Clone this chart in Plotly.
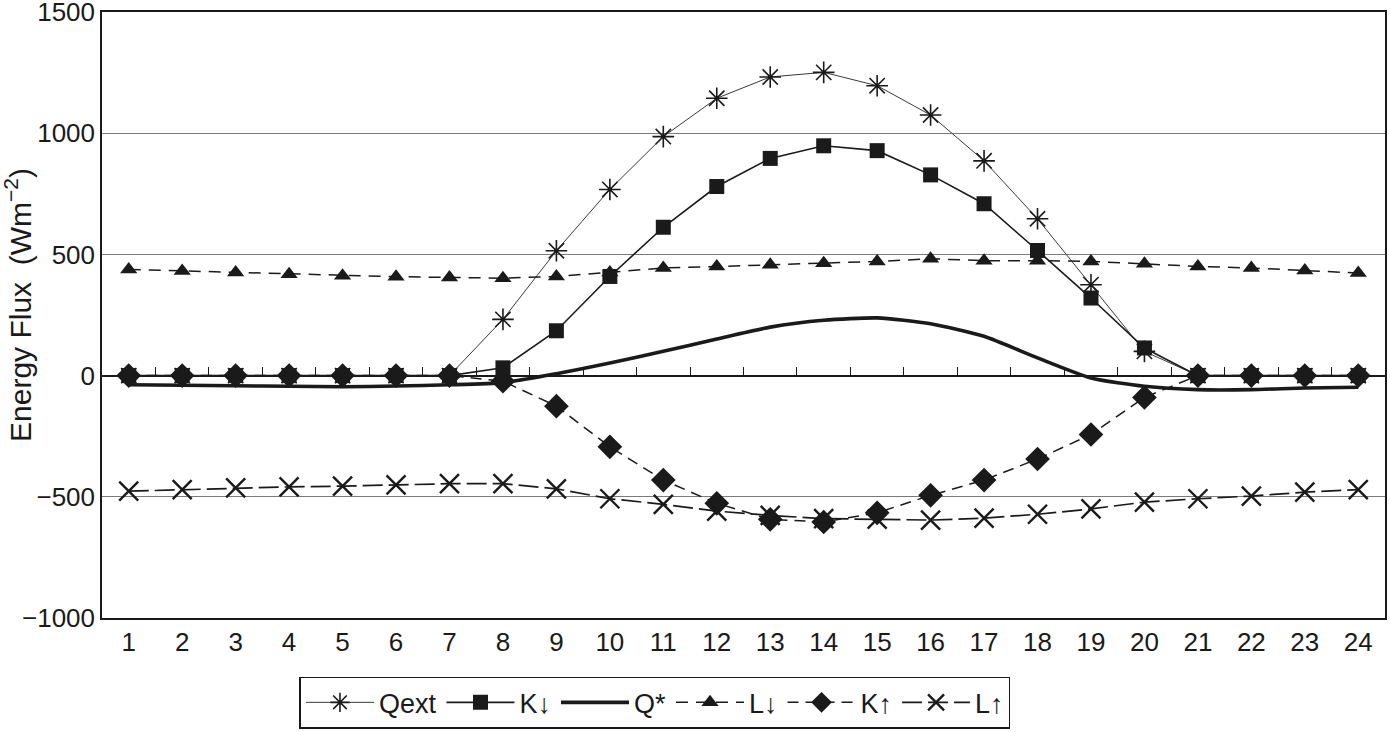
import plotly.graph_objects as go

hours = list(range(1, 25))
tick_labels = [str(h) for h in hours]

qext = [0, 0, 0, 0, 0, 0, 0, 232, 515, 768, 986, 1144, 1232, 1251, 1196, 1075,
        886, 647, 375, 100, 0, 0, 0, 0]
k_down = [0, 0, 0, 0, 0, 0, 0, 32, 185, 409, 612, 780, 896, 948, 928, 828,
          709, 516, 320, 114, 0, 0, 0, 0]
q_star = [-38, -40, -42, -44, -46, -43, -38, -29, 8, 52, 100, 151, 200, 228, 238, 214,
          162, 73, -10, -44, -58, -58, -51, -48]
l_down = [438, 432, 425, 418, 412, 408, 405, 402, 409, 425, 444, 450, 457, 464, 471, 482,
          474, 474, 471, 461, 450, 444, 434, 423]
k_up = [0, 0, 0, 0, 0, 0, 0, -23, -126, -294, -431, -527, -593, -604, -566, -494,
        -431, -344, -243, -90, 0, 0, 0, 0]
l_up = [-477, -470, -463, -459, -456, -451, -446, -446, -467, -508, -531, -559, -577, -590, -592, -596,
        -588, -572, -550, -522, -508, -497, -481, -470]

y_title = "Energy Flux  (Wm<sup>−2</sup>)"

FONT = "Liberation Sans, Arial, sans-serif"
INK = "#1a1a1a"
FS = 26

fig = go.Figure()

fig.add_trace(go.Scatter(
    x=hours, y=qext, name="Qext", mode="lines+markers",
    line=dict(color="#3a3a3a", width=1),
    marker=dict(symbol="asterisk-open", size=18, line=dict(color=INK, width=1.6), color=INK)))
fig.add_trace(go.Scatter(
    x=hours, y=k_down, name="K↓", mode="lines+markers",
    line=dict(color=INK, width=1.6),
    marker=dict(symbol="square", size=15, color=INK)))
fig.add_trace(go.Scatter(
    x=hours, y=q_star, name="Q*", mode="lines",
    line=dict(color=INK, width=3.6, shape="spline", smoothing=0.6)))
fig.add_trace(go.Scatter(
    x=hours, y=l_down, name="L↓", mode="lines+markers",
    line=dict(color=INK, width=1.5, dash="12px,8px"),
    marker=dict(symbol="triangle-up", size=15, color=INK)))
fig.add_trace(go.Scatter(
    x=hours, y=k_up, name="K↑", mode="lines+markers",
    line=dict(color=INK, width=1.5, dash="11px,7px"),
    marker=dict(symbol="diamond", size=19, color=INK)))
fig.add_trace(go.Scatter(
    x=hours, y=l_up, name="L↑", mode="lines+markers",
    line=dict(color=INK, width=1.7, dash="20px,6px"),
    marker=dict(symbol="x-thin-open", size=19, line=dict(color=INK, width=2.4), color=INK)))

# helper trace so the zero-line axis with tick marks is drawn
fig.add_trace(go.Scatter(x=[], y=[], xaxis="x2", showlegend=False, hoverinfo="skip"))

fig.update_layout(
    width=1390, height=732,
    margin=dict(l=102, r=5, t=12, b=114, autoexpand=False),
    paper_bgcolor="white", plot_bgcolor="white",
    font=dict(family=FONT, size=FS, color=INK),
    showlegend=True,
    legend=dict(orientation="h", x=0.431, xanchor="center", y=-0.097, yanchor="top",
                bordercolor=INK, borderwidth=1.5, font=dict(size=27, family=FONT, color=INK),
                itemwidth=68, tracegroupgap=0, traceorder="normal"),
    xaxis=dict(range=[0.5, 24.5], tickmode="array", tickvals=hours, ticktext=tick_labels,
               showgrid=False, zeroline=False, showline=True, linecolor=INK, linewidth=1.5,
               mirror=True, ticks="", automargin=False,
               tickfont=dict(size=FS, family=FONT, color=INK)),
    xaxis2=dict(range=[0.5, 24.5], overlaying="x", anchor="free", position=0.4,
                tickmode="array", tickvals=[h + 0.5 for h in hours[:-1]],
                ticks="inside", ticklen=8, tickwidth=1.3, tickcolor=INK,
                showticklabels=False, showgrid=False, zeroline=False, automargin=False,
                showline=True, linecolor=INK, linewidth=1.5),
    yaxis=dict(range=[-1000, 1500], tickmode="array",
               tickvals=[-1000, -500, 0, 500, 1000, 1500],
               showgrid=True, gridcolor="#7a7a7a", gridwidth=1,
               zeroline=False, showline=True, linecolor=INK, linewidth=1.5, mirror=True,
               ticks="", ticklabeloverflow="allow", automargin=False,
               tickfont=dict(size=FS, family=FONT, color=INK)),
    annotations=[dict(text=y_title, xref="paper", yref="paper", x=-0.0655, y=0.5165,
                      xanchor="center", yanchor="middle", textangle=-90, showarrow=False,
                      font=dict(size=30, family=FONT, color=INK))],
)

fig.write_html("out.html", config={"displayModeBar": False},
               post_script="document.body.style.margin='0px';document.body.style.overflow='hidden';")
